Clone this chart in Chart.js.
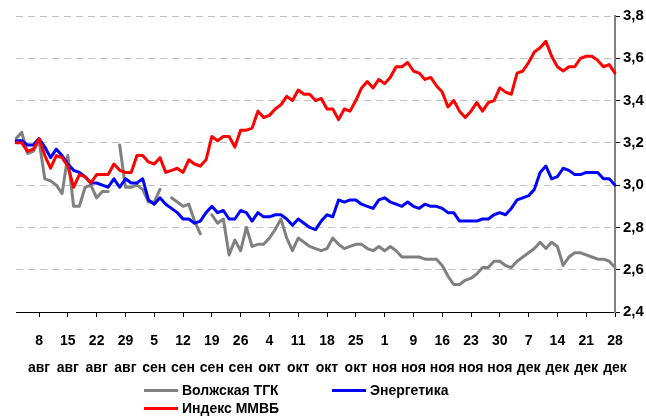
<!DOCTYPE html>
<html>
<head>
<meta charset="utf-8">
<script src="https://cdn.jsdelivr.net/npm/chart.js@4/dist/chart.umd.min.js"></script>
<style>
  body { margin: 0; background: #fff; }
  #wrap { position: relative; width: 646px; height: 416px; }
  #chart { display: block; }
  .item { position: absolute; height: 17px; display: flex; align-items: center; white-space: nowrap;
          font: bold 14px "Liberation Sans Narrow", "Liberation Sans", Arial, sans-serif; color: #000; }
  .swatch { width: 34px; height: 3px; margin-right: 4px; }
</style>
</head>
<body>
<div id="wrap">
  <canvas id="chart" width="646" height="416"></canvas>
  <div id="legend"></div>
</div>
<script>
const tickDays = [8, 15, 22, 29, 5, 12, 19, 26, 4, 11, 18, 25, 1, 9, 16, 23, 30, 7, 14, 21, 28];
const tickMonths = ['авг', 'авг', 'авг', 'авг', 'сен', 'сен', 'сен', 'сен', 'окт', 'окт', 'окт', 'окт',
                    'ноя', 'ноя', 'ноя', 'ноя', 'ноя', 'дек', 'дек', 'дек', 'дек'];

const volzhskaya = [
    3.22, 3.25, 3.15, 3.16, 3.21, 3.03, 3.02, 3.00, 2.96, 3.14,
    2.90, 2.90, 2.99, 3.00, 2.94, 2.97, 2.97, null, 3.19, 2.99,
    2.99, 3.00, 2.98, 2.92, 2.92, 2.98, null, 2.94, 2.92, 2.90,
    2.91, 2.83, 2.77, null, 2.86, 2.82, 2.84, 2.67, 2.74, 2.69,
    2.80, 2.71, 2.72, 2.72, 2.75, 2.79, 2.84, 2.75, 2.69, 2.75,
    2.73, 2.71, 2.70, 2.69, 2.70, 2.75, 2.72, 2.70, 2.71, 2.72,
    2.72, 2.70, 2.69, 2.71, 2.69, 2.71, 2.69, 2.66, 2.66, 2.66,
    2.66, 2.65, 2.65, 2.65, 2.62, 2.57, 2.53, 2.53, 2.55, 2.56,
    2.58, 2.61, 2.61, 2.64, 2.64, 2.62, 2.61, 2.64, 2.66, 2.68,
    2.70, 2.73, 2.70, 2.73, 2.71, 2.62, 2.66, 2.68, 2.68, 2.67,
    2.66, 2.65, 2.65, 2.64, 2.61
];

const energetika = [
    3.21, 3.21, 3.19, 3.19, 3.22, 3.18, 3.13, 3.17, 3.14, 3.10,
    3.07, 3.06, 3.04, 3.01, 3.01, 3.00, 2.99, 3.03, 2.99, 3.03,
    3.01, 3.01, 3.03, 2.93, 2.91, 2.94, 2.91, 2.89, 2.87, 2.84,
    2.84, 2.82, 2.83, 2.87, 2.90, 2.87, 2.88, 2.84, 2.84, 2.88,
    2.87, 2.83, 2.87, 2.85, 2.85, 2.86, 2.86, 2.84, 2.81, 2.84,
    2.82, 2.80, 2.79, 2.83, 2.86, 2.85, 2.93, 2.92, 2.93, 2.93,
    2.91, 2.90, 2.89, 2.93, 2.94, 2.92, 2.91, 2.90, 2.92, 2.90,
    2.89, 2.91, 2.90, 2.90, 2.89, 2.87, 2.87, 2.83, 2.83, 2.83,
    2.83, 2.84, 2.84, 2.86, 2.87, 2.86, 2.89, 2.93, 2.94, 2.95,
    2.98, 3.06, 3.09, 3.03, 3.04, 3.08, 3.07, 3.05, 3.05, 3.06,
    3.06, 3.06, 3.03, 3.03, 3.00
];

const micex = [
    3.20, 3.20, 3.16, 3.17, 3.22, 3.14, 3.08, 3.14, 3.13, 3.09,
    2.99, 3.05, 3.04, 3.01, 3.05, 3.05, 3.05, 3.10, 3.07, 3.06,
    3.06, 3.14, 3.14, 3.11, 3.10, 3.13, 3.06, 3.07, 3.08, 3.06,
    3.12, 3.10, 3.09, 3.12, 3.23, 3.21, 3.23, 3.23, 3.18, 3.26,
    3.26, 3.27, 3.35, 3.32, 3.33, 3.36, 3.38, 3.42, 3.40, 3.45,
    3.43, 3.43, 3.40, 3.41, 3.36, 3.36, 3.31, 3.36, 3.35, 3.40,
    3.46, 3.49, 3.46, 3.50, 3.48, 3.51, 3.56, 3.56, 3.58, 3.54,
    3.53, 3.50, 3.51, 3.47, 3.44, 3.37, 3.40, 3.35, 3.32, 3.35,
    3.39, 3.35, 3.39, 3.40, 3.46, 3.44, 3.43, 3.53, 3.54, 3.58,
    3.63, 3.65, 3.68, 3.61, 3.56, 3.54, 3.56, 3.56, 3.60, 3.61,
    3.61, 3.59, 3.56, 3.57, 3.53
];

// every 5th trading day carries a label
const categories = micex.map((v, i) => i % 5 === 4 ? tickDays[(i - 4) / 5] + ' ' + tickMonths[(i - 4) / 5] : '');

const FONT = '"Liberation Sans Narrow", "Liberation Sans", Arial, sans-serif';

const chart = new Chart(document.getElementById('chart'), {
    type: 'line',
    data: {
        labels: categories,
        datasets: [
            { label: 'Волжская ТГК', data: volzhskaya, borderColor: '#808080', order: 3 },
            { label: 'Энергетика', data: energetika, borderColor: '#0000ff', order: 2 },
            { label: 'Индекс ММВБ', data: micex, borderColor: '#ff0000', order: 1 }
        ]
    },
    options: {
        responsive: false,
        animation: false,
        spanGaps: false,
        layout: { padding: { left: 16, top: 16, right: 0, bottom: 0 } },
        elements: {
            line: { borderWidth: 3, tension: 0, borderJoinStyle: 'round', borderCapStyle: 'round' },
            point: { radius: 0 }
        },
        plugins: { legend: { display: false }, tooltip: { enabled: false } },
        scales: {
            x: {
                offset: false,
                border: { color: '#000', width: 1 },
                grid: { drawOnChartArea: false, tickLength: 5, tickColor: '#000', tickWidth: 1 },
                ticks: {
                    autoSkip: false,
                    maxRotation: 0,
                    padding: 11,
                    color: '#000',
                    font: { family: FONT, size: 14, weight: 'bold', lineHeight: 1.93 },
                    callback: function (value) {
                        const k = (value - 4) / 5;
                        return [String(tickDays[k]), tickMonths[k]];
                    }
                },
                afterBuildTicks: function (axis) {
                    axis.ticks = axis.ticks.filter(t => t.value % 5 === 4);
                },
                afterFit: function (axis) { axis.height = 104; }
            },
            y: {
                position: 'right',
                min: 2.4,
                max: 3.8,
                border: { color: '#808080', width: 2, dash: [7, 5] },
                grid: { color: '#c0c0c0', lineWidth: 1, tickLength: 5, tickColor: '#000', tickWidth: 1 },
                ticks: {
                    stepSize: 0.2,
                    padding: 3,
                    color: '#000',
                    font: { family: FONT, size: 15, weight: 'bold' },
                    callback: v => v.toFixed(1).replace('.', ',')
                },
                afterFit: function (axis) { axis.width = 31; }
            }
        }
    }
});

const legendPos = [[144, 390], [332, 390], [144, 408]];
const legend = document.getElementById('legend');
chart.data.datasets.forEach((ds, i) => {
    const item = document.createElement('div');
    item.className = 'item';
    item.style.left = legendPos[i][0] + 'px';
    item.style.top = (legendPos[i][1] - 8.5) + 'px';
    item.innerHTML = '<span class="swatch" style="background:' + ds.borderColor + '"></span>' + ds.label;
    legend.appendChild(item);
});
</script>
</body>
</html>
